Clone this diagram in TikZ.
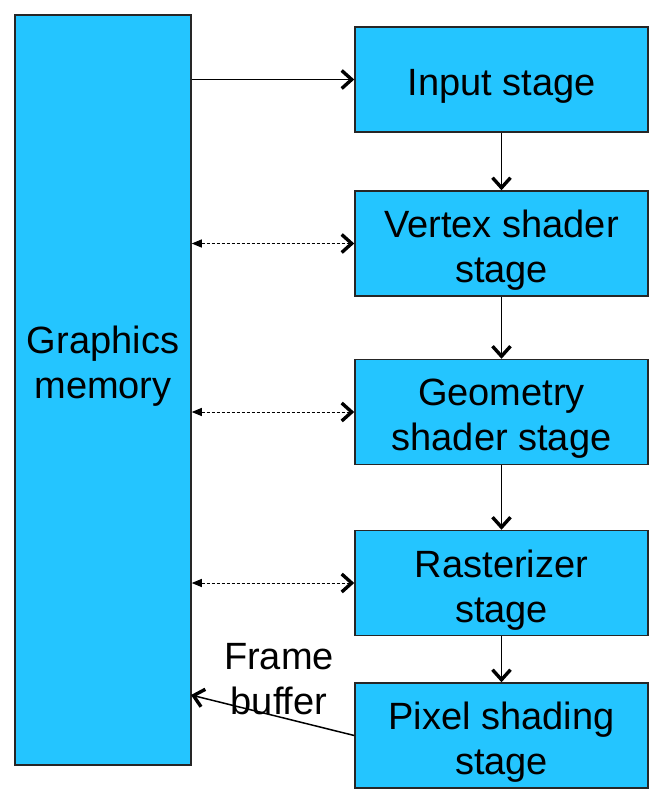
\documentclass[tikz,border=0pt]{standalone}
\usepackage{fontspec}
\setmainfont{Liberation Sans}
\usetikzlibrary{arrows.meta}
\definecolor{stageblue}{RGB}{36,197,255}

\begin{document}
\begin{tikzpicture}
   [x=0.5pt,y=-0.5pt,
    every node/.style={font=\fontsize{19pt}{22.5pt}\selectfont, align=center},
    box/.style={rectangle, draw=black!85, line width=0.75pt, fill=stageblue, inner sep=0pt},
    stage/.style={box, minimum width=146.5pt, minimum height=52.5pt},
    stagetext/.style={yshift=-3.5pt},
    flow/.style={line width=0.75pt, -{Straight Barb[length=5pt,width=9pt,line width=1.7pt]}},
    access/.style={line width=0.5pt, dash pattern=on 1.5pt off 1pt,
      {Triangle[length=5pt,width=4pt]}-{Straight Barb[length=5pt,width=9pt,line width=1.7pt]}}]

  \useasboundingbox (0,0) rectangle (663,800);

  \node[box, minimum width=88pt, minimum height=375pt,
        label={[yshift=12pt]center:Graphics\\memory}] (memory) at (103,390) {};

  \node[stage, label={[stagetext]center:Input stage}]          (input)    at (501.5,79.5)  {};
  \node[stage, label={[stagetext]center:Vertex shader\\stage}] (vertex)   at (501.5,243.5) {};
  \node[stage, label={[stagetext]center:Geometry\\shader stage}] (geometry) at (501.5,412) {};
  \node[stage, label={[stagetext]center:Rasterizer\\stage}]    (raster)   at (501.5,583)   {};
  \node[stage, label={[stagetext]center:Pixel shading\\stage}] (pixel)    at (501.5,735.5) {};

  \node (fblabel) at (279,679) {Frame\\buffer};
  \coordinate (fbin) at (191,695);

  \foreach \from/\to in {input/vertex,vertex/geometry,geometry/raster,raster/pixel}
    \draw[flow] (\from) -- (\to);

  \draw[flow] (memory.east |- input) -- (input);

  \foreach \stg in {vertex,geometry,raster}
    \draw[access] (memory.east |- \stg) -- (\stg);

  \draw[flow] (pixel.west) -- (fbin);

\end{tikzpicture}
\end{document}
